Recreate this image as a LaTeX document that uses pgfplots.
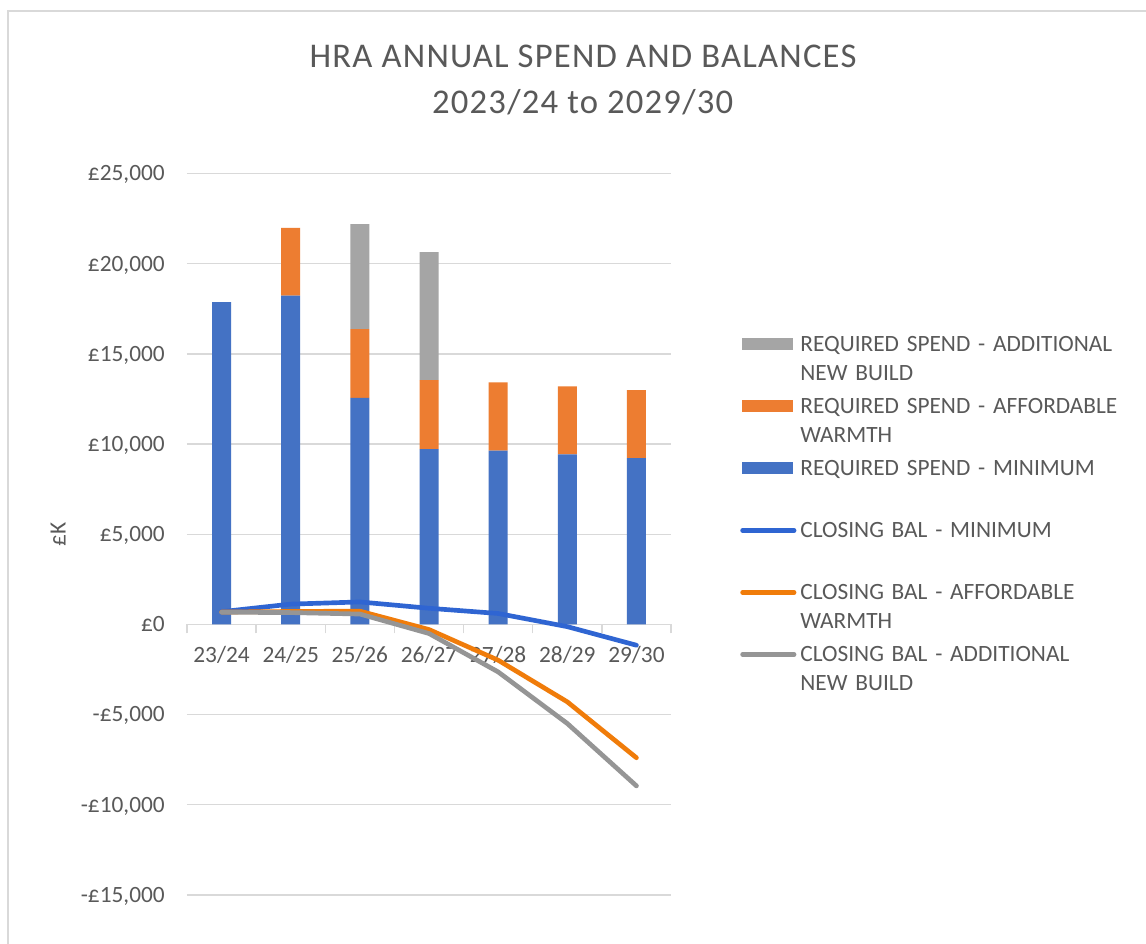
\documentclass[border=0pt]{standalone}
\usepackage{fontspec}
\setmainfont{Carlito}
\usepackage{pgfplots}
\pgfplotsset{compat=1.18}
\definecolor{cBlue}{HTML}{4472C4}
\definecolor{cOrange}{HTML}{ED7D31}
\definecolor{cGray}{HTML}{A5A5A5}
\definecolor{lBlue}{HTML}{2F65D2}
\definecolor{lOrange}{HTML}{F07C0A}
\definecolor{lGray}{HTML}{959595}
\definecolor{cGrid}{HTML}{D9D9D9}
\definecolor{cText}{HTML}{595959}
\pgfplotsset{
  barlegend/.style={legend image code/.code={\fill[##1,draw=none] (1.5pt,7.65pt) rectangle (39.75pt,16.65pt);}},
  linelegend/.style={legend image code/.code={\draw[##1] (1.7pt,12.15pt) -- (40.3pt,12.15pt);}},
}
\newcommand{\LE}[2]{\strut #1\\\strut #2}
\newcommand{\tfont}{\fontsize{17.5pt}{21.75pt}\selectfont}
\newcommand{\titlefont}{\fontsize{26pt}{31pt}\selectfont\addfontfeature{LetterSpace=3.5}}
\begin{document}
\begin{tikzpicture}
\useasboundingbox (0,0) rectangle (859.5pt,708pt);
\fill[white] (0,0) rectangle (859.5pt,708pt);
\draw[cGrid, line width=1.2pt] (6pt,-20pt) -- (6pt,699.75pt) -- (880pt,699.75pt);
\node[font=\titlefont, text=cText, anchor=base, inner sep=0pt] at (437.25pt,657.1pt) {HRA ANNUAL SPEND AND BALANCES};
\node[font=\titlefont, text=cText, anchor=base, inner sep=0pt] at (437pt,622.9pt) {2023/24 to 2029/30};

\begin{axis}[
  at={(140.25pt,36.75pt)}, anchor=south west,
  scale only axis, width=363pt, height=541pt,
  ybar stacked, bar width=14.25pt,
  xmin=-0.5, xmax=6.5, ymin=-15000, ymax=25000,
  axis x line=middle, axis y line=left,
  x axis line style={-, draw=cGrid, line width=1pt},
  y axis line style={draw=none},
  xtick={0,...,6}, xticklabels={23/24,24/25,25/26,26/27,27/28,28/29,29/30},
  minor xtick={-0.5,0.5,...,6.5},
  ytick={-15000,-10000,...,25000},
  scaled y ticks=false,
  yticklabels={{-£15,000},{-£10,000},{-£5,000},{£0},{£5,000},{£10,000},{£15,000},{£20,000},{£25,000}},
  ymajorgrids, major grid style={draw=cGrid, line width=1pt},
  major tick length=0pt, minor tick length=6.75pt,
  xtick align=outside,
  minor tick style={draw=cGrid, line width=1pt},
  ytick style={draw=none},
  hide obscured x ticks=false, hide obscured y ticks=false,
  tick label style={font=\tfont, text=cText},
  xticklabel style={anchor=base, yshift=-28.5pt, inner sep=0pt},
  yticklabel style={anchor=base east, inner sep=0pt, xshift=-16.5pt, yshift=-5.5pt},
  ylabel={£K},
  every axis y label/.style={at={(axis description cs:-0.2665,0.5)}, anchor=center, rotate=90, font=\tfont, text=cText},
]
\addplot[fill=cBlue, draw=none] coordinates {(0,17880) (1,18230) (2,12560) (3,9730) (4,9640) (5,9430) (6,9230)};
\addplot[fill=cOrange, draw=none] coordinates {(0,0) (1,3770) (2,3820) (3,3820) (4,3780) (5,3770) (6,3770)};
\addplot[fill=cGray, draw=none] coordinates {(0,0) (1,0) (2,5820) (3,7100) (4,0) (5,0) (6,0)};
\end{axis}

\begin{axis}[
  at={(140.25pt,36.75pt)}, anchor=south west,
  scale only axis, width=363pt, height=541pt,
  xmin=-0.5, xmax=6.5, ymin=-15000, ymax=25000,
  hide axis, linelegend,
  legend cell align=left,
  legend style={at={(1.14256,0.7814)}, anchor=north west, draw=none, fill=none, inner sep=0pt,
    row sep=3pt, column sep=3pt, font=\tfont, text=cText,
    nodes={inner sep=0pt, text depth={}, text width=250pt, align=left}},
]
\addlegendimage{barlegend, fill=cGray}
\addlegendentry{\LE{REQUIRED SPEND - ADDITIONAL}{NEW BUILD}}
\addlegendimage{barlegend, fill=cOrange}
\addlegendentry{\LE{REQUIRED SPEND - AFFORDABLE}{WARMTH}}
\addlegendimage{barlegend, fill=cBlue}
\addlegendentry{\LE{REQUIRED SPEND - MINIMUM}{}}
\addplot[lBlue, line width=3.5pt, line join=round, line cap=round] coordinates {(0,710) (1,1130) (2,1250) (3,900) (4,610) (5,-120) (6,-1150)};
\addlegendentry{\LE{CLOSING BAL - MINIMUM}{}}
\addplot[lOrange, line width=3.5pt, line join=round, line cap=round] coordinates {(0,690) (1,720) (2,740) (3,-280) (4,-1980) (5,-4290) (6,-7390)};
\addlegendentry{\LE{CLOSING BAL - AFFORDABLE}{WARMTH}}
\addplot[lGray, line width=3.5pt, line join=round, line cap=round] coordinates {(0,680) (1,660) (2,580) (3,-500) (4,-2630) (5,-5490) (6,-8950)};
\addlegendentry{\LE{CLOSING BAL - ADDITIONAL}{NEW BUILD}}
\end{axis}
\end{tikzpicture}
\end{document}
